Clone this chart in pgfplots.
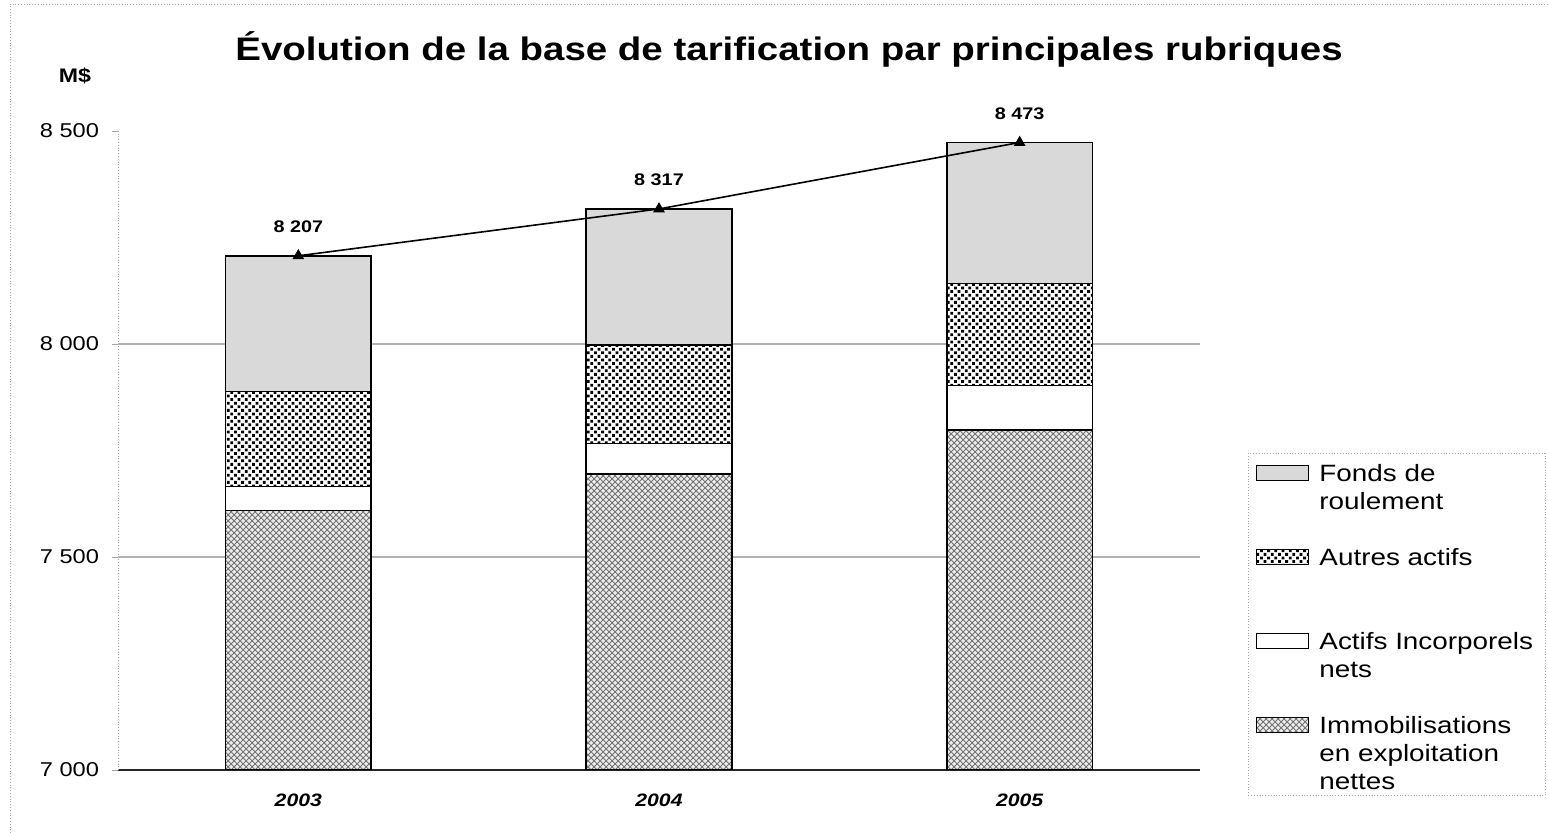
\documentclass[border=0pt]{standalone}
\usepackage{fontspec}
\setmainfont{Liberation Sans}[FakeStretch=1.18]
\usepackage{pgfplots}
\pgfplotsset{compat=1.18}
\usetikzlibrary{patterns}
\pgfdeclarepatternformonly{bigdots}{\pgfqpoint{-1pt}{-1pt}}{\pgfqpoint{5pt}{5pt}}{\pgfqpoint{3.6pt}{3.6pt}}{%
  \pgfpathrectangle{\pgfqpoint{0pt}{0pt}}{\pgfqpoint{1.4pt}{1.4pt}}%
  \pgfpathrectangle{\pgfqpoint{1.8pt}{1.8pt}}{\pgfqpoint{1.4pt}{1.4pt}}%
  \pgfusepath{fill}}

\begin{document}
\begin{tikzpicture}[x=1pt,y=1pt]
\useasboundingbox (0,0) rectangle (774,416.5);
\draw[gray!70, densely dotted] (5,0) -- (5,414.5) -- (774,414.5);
\node[anchor=base, font=\bfseries\fontsize{16.3}{20}\selectfont] at (394.5,386) {Évolution de la base de tarification par principales rubriques};
\node[anchor=base, font=\bfseries\fontsize{9.8}{11}\selectfont] at (37.5,375) {M\$};

\begin{axis}[
  at={(59pt,31.5pt)}, anchor=south west, scale only axis,
  width=541pt, height=319.5pt,
  xmin=-0.5, xmax=2.5, ymin=7000, ymax=8500,
  ybar stacked, bar width=0.404,
  axis x line*=bottom, axis y line*=left,
  x axis line style={black!85, line width=0.6pt, -},
  y axis line style={gray!70, densely dotted, -},
  xtick={0,1,2}, xticklabels={2003,2004,2005},
  x tick style={draw=none},
  xticklabel style={font=\bfseries\itshape\fontsize{9}{11}\selectfont, anchor=base, yshift=-15.5pt},
  ytick={7000,7500,8000,8500}, yticklabels={7 000,7 500,8 000,8 500},
  y tick style={gray!70}, tick align=outside, major tick length=3pt,
  yticklabel style={font=\fontsize{10}{12}\selectfont, xshift=-3pt},
  extra y ticks={7500,8000}, extra y tick labels={},
  extra y tick style={grid=major, y tick style={draw=none}},
  major grid style={gray!60, line width=0.6pt},
  every axis plot/.append style={draw=black, line width=0.7pt},
  reverse legend,
  legend cell align=left,
  legend image code/.code={\draw[#1, solid, line width=0.5pt] (0pt,0.5pt) rectangle (26pt,8pt);},
  legend style={at={(1.0444,0.496)}, anchor=north west, draw=gray!70, densely dotted,
    inner sep=4pt, font=\fontsize{11.8}{14}\selectfont,
    nodes={anchor=base west, text height=10pt, text depth=27pt, inner ysep=0pt},
    /tikz/column sep=3pt, /tikz/row sep=5pt},
]
\addplot[fill=gray!15, postaction={pattern=crosshatch, pattern color=gray!90!black}]
  coordinates {(0,7609) (1,7695) (2,7798)};
\addlegendentry{\begin{tabular}[t]{@{}l@{}}Immobilisations\\en exploitation\\nettes\end{tabular}}
\addplot[fill=white]
  coordinates {(0,56) (1,72) (2,104)};
\addlegendentry{\begin{tabular}[t]{@{}l@{}}Actifs Incorporels\\nets\end{tabular}}
\addplot[fill=white, postaction={pattern=bigdots, pattern color=black}]
  coordinates {(0,223) (1,231) (2,240)};
\addlegendentry{Autres actifs}
\addplot[fill=gray!30]
  coordinates {(0,319) (1,319) (2,331)};
\addlegendentry{\begin{tabular}[t]{@{}l@{}}Fonds de\\roulement\end{tabular}}
\end{axis}

\begin{axis}[
  at={(59pt,31.5pt)}, anchor=south west, scale only axis,
  width=541pt, height=319.5pt,
  xmin=-0.5, xmax=2.5, ymin=7000, ymax=8500,
  hide axis, clip=false,
]
\addplot[black, line width=0.8pt, mark=triangle*, mark size=2.6pt,
  point meta=explicit symbolic, nodes near coords,
  nodes near coords style={font=\bfseries\fontsize{8.4}{10}\selectfont, anchor=base, yshift=11.5pt}]
  coordinates {(0,8207) [8 207] (1,8317) [8 317] (2,8473) [8 473]};
\end{axis}
\end{tikzpicture}
\end{document}
